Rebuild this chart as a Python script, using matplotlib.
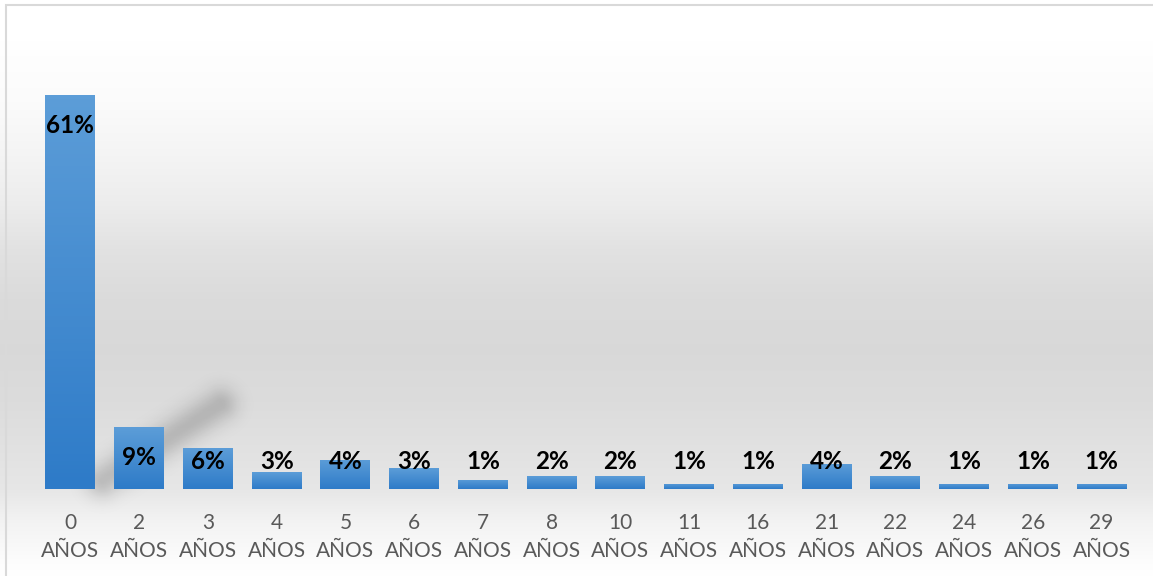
import numpy as np
import matplotlib.pyplot as plt
from matplotlib.colors import LinearSegmentedColormap
from matplotlib.patches import Rectangle

# Datos
edades = ['0', '2', '3', '4', '5', '6', '7', '8', '10', '11', '16', '21', '22', '24', '26', '29']
porcentajes = [61.0, 9.6, 6.3, 2.6, 4.5, 3.2, 1.4, 2.0, 2.0, 0.8, 0.8, 3.9, 2.0, 0.8, 0.8, 0.8]
etiquetas = ['61%', '9%', '6%', '3%', '4%', '3%', '1%', '2%', '2%', '1%', '1%', '4%', '2%', '1%', '1%', '1%']
categorias = [e + '\nAÑOS' for e in edades]

W, H = 1153, 576
fig = plt.figure(figsize=(W / 100, H / 100), dpi=100)

# fondo con degradado vertical
bg = fig.add_axes([0, 0, 1, 1], zorder=0)
py = np.array([0, 40, 100, 150, 200, 250, 300, 350, 400, 450, 489, 520, 560, 576])
gris = np.array([1.0, 1.0, 0.985, 0.96, 0.93, 0.885, 0.858, 0.85, 0.862, 0.885, 0.905, 0.95, 0.99, 1.0])
perfil = np.interp(np.arange(H), py, gris)
img = np.repeat(perfil[:, None], 2, axis=1)
bg.imshow(np.dstack([img, img, img]), aspect='auto', extent=[0, 1, 0, 1], origin='upper')

# sombra difusa diagonal detras de las barras
yy, xx = np.mgrid[0:H, 0:W].astype(float)
p0, p1 = np.array([102.0, 480.0]), np.array([220.0, 404.0])
d = p1 - p0
t = np.clip(((xx - p0[0]) * d[0] + (yy - p0[1]) * d[1]) / (d @ d), 0, 1)
dist = np.hypot(xx - (p0[0] + t * d[0]), yy - (p0[1] + t * d[1]))
alpha = 0.18 * np.exp(-dist ** 2 / (2 * 12.0 ** 2))
sombra = np.zeros((H, W, 4))
sombra[..., 3] = alpha
bg.imshow(sombra, aspect='auto', extent=[0, 1, 0, 1], origin='upper')

bg.add_patch(Rectangle((6 / W, -0.01), 1.1, 1 - 5 / H + 0.01, fill=False,
                       edgecolor='#d9d9d9', linewidth=1.5, transform=bg.transAxes))
bg.set_xlim(0, 1)
bg.set_ylim(0, 1)
bg.set_axis_off()

ax = fig.add_axes([36 / W, 1 - 489 / H, 1100 / W, (489 - 37) / H], zorder=1)
ax.patch.set_alpha(0)

x = np.arange(len(edades))
bars = ax.bar(x, porcentajes, width=0.727, color='none', edgecolor='none')

cmap = LinearSegmentedColormap.from_list('azul', ['#2e7bc8', '#5c9dd8'])
grad = np.linspace(0, 1, 100)[:, None]
for b in bars:
    x0, y0 = b.get_x(), b.get_y()
    im = ax.imshow(grad, cmap=cmap, aspect='auto', origin='lower',
                   extent=[x0, x0 + b.get_width(), y0, y0 + b.get_height()], zorder=2)
    im.set_clip_path(b)

for xi, v, t in zip(x, porcentajes, etiquetas):
    ax.text(xi, max(v - 4.7, 4.2), t, ha='center', va='center', fontsize=17.5,
            fontweight='bold', family='Lato', color='black', zorder=3)

ax.set_xlim(-0.5, len(edades) - 0.5)
ax.set_ylim(0, 70)
ax.set_xticks(x)
ax.set_xticklabels(categorias, fontsize=15, family='Lato', color='#595959', linespacing=1.55)
ax.tick_params(axis='x', length=0, pad=17)
ax.set_yticks([])
for s in ax.spines.values():
    s.set_visible(False)

plt.savefig('out.png', dpi=100)
